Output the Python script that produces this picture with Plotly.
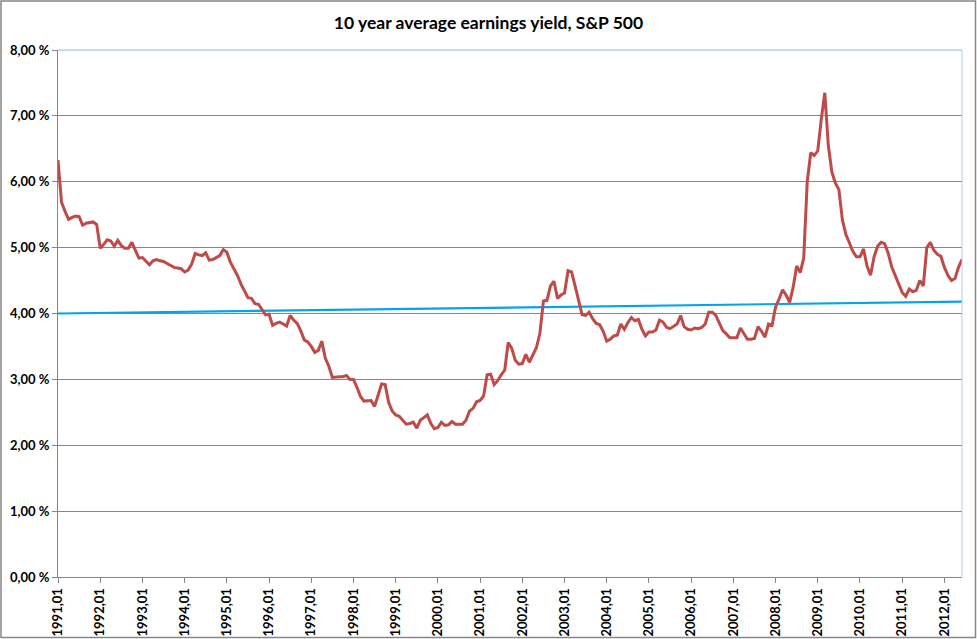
import plotly.graph_objects as go

# ---- data ----
title_text = "10 year average earnings yield, S&P 500"
years_labels = [f"{y},01" for y in range(1991, 2013)]

earnings_yield = [
    # 1991
    6.33, 5.69, 5.55, 5.43, 5.46, 5.48, 5.47, 5.34, 5.37, 5.38, 5.39, 5.35,
    # 1992
    4.99, 5.05, 5.12, 5.10, 5.02, 5.11, 5.03, 4.99, 4.99, 5.08, 4.95, 4.84,
    # 1993
    4.85, 4.80, 4.74, 4.80, 4.82, 4.80, 4.79, 4.76, 4.73, 4.70, 4.69, 4.68,
    # 1994
    4.63, 4.66, 4.75, 4.91, 4.89, 4.88, 4.92, 4.81, 4.82, 4.85, 4.88, 4.97,
    # 1995
    4.93, 4.78, 4.69, 4.58, 4.45, 4.35, 4.24, 4.23, 4.15, 4.14, 4.06, 3.98,
    # 1996
    3.99, 3.82, 3.85, 3.87, 3.84, 3.81, 3.97, 3.90, 3.85, 3.74, 3.60, 3.57,
    # 1997
    3.50, 3.41, 3.44, 3.58, 3.32, 3.20, 3.03, 3.04, 3.04, 3.04, 3.06, 3.00,
    # 1998
    3.00, 2.88, 2.74, 2.67, 2.68, 2.68, 2.59, 2.78, 2.93, 2.92, 2.65, 2.52,
    # 1999
    2.46, 2.44, 2.38, 2.32, 2.33, 2.35, 2.26, 2.38, 2.42, 2.46, 2.33, 2.25,
    # 2000
    2.27, 2.35, 2.30, 2.31, 2.36, 2.32, 2.32, 2.32, 2.38, 2.52, 2.56, 2.66,
    # 2001
    2.68, 2.75, 3.07, 3.08, 2.92, 2.98, 3.07, 3.14, 3.56, 3.47, 3.29, 3.23,
    # 2002
    3.24, 3.38, 3.26, 3.37, 3.48, 3.70, 4.19, 4.20, 4.42, 4.49, 4.23, 4.28,
    # 2003
    4.31, 4.65, 4.63, 4.42, 4.22, 3.98, 3.97, 4.02, 3.92, 3.85, 3.83, 3.73,
    # 2004
    3.58, 3.61, 3.66, 3.67, 3.84, 3.76, 3.86, 3.94, 3.89, 3.91, 3.76, 3.66,
    # 2005
    3.72, 3.72, 3.75, 3.90, 3.87, 3.79, 3.77, 3.80, 3.84, 3.97, 3.80, 3.76,
    # 2006
    3.75, 3.78, 3.77, 3.79, 3.84, 4.02, 4.02, 3.97, 3.84, 3.74, 3.69, 3.63,
    # 2007
    3.63, 3.63, 3.78, 3.69, 3.61, 3.61, 3.62, 3.80, 3.73, 3.64, 3.84, 3.82,
    # 2008
    4.10, 4.22, 4.36, 4.28, 4.17, 4.40, 4.72, 4.62, 4.84, 6.00, 6.44, 6.40,
    # 2009
    6.47, 6.95, 7.35, 6.55, 6.15, 5.98, 5.88, 5.42, 5.20, 5.07, 4.94, 4.86,
    # 2010
    4.86, 4.98, 4.72, 4.58, 4.86, 5.02, 5.08, 5.06, 4.92, 4.71, 4.58, 4.44,
    # 2011
    4.32, 4.26, 4.37, 4.33, 4.35, 4.50, 4.42, 5.00, 5.08, 4.96, 4.90, 4.87,
    # 2012
    4.70, 4.58, 4.50, 4.53, 4.70, 4.82,
]

trend_values = [4.00, 4.18]  # linear trend: first and last month

y_tick_values = [0, 1, 2, 3, 4, 5, 6, 7, 8]
y_tick_labels = ["0,00 %", "1,00 %", "2,00 %", "3,00 %", "4,00 %",
                 "5,00 %", "6,00 %", "7,00 %", "8,00 %"]

# ---- figure ----
n = len(earnings_yield)
x_idx = list(range(n))
x_tick_vals = list(range(0, n, 12))

W, H = 977, 639
ml, mr, mt, mb = 58, 15, 50, 62

fig = go.Figure()
fig.add_trace(go.Scatter(
    x=[0, n - 1], y=trend_values, mode="lines",
    line=dict(color="#00A6E6", width=2.2), hoverinfo="skip", showlegend=False,
))
fig.add_trace(go.Scatter(
    x=x_idx, y=earnings_yield, mode="lines",
    line=dict(color="#BE4B48", width=3), showlegend=False,
))

font_family = "Lato, 'Open Sans', sans-serif"

fig.update_layout(
    width=W, height=H, autosize=False,
    margin=dict(l=ml, r=mr, t=mt, b=mb, autoexpand=False),
    paper_bgcolor="white", plot_bgcolor="white",
    title=dict(text=f"<b>{title_text}</b>", x=0.5, xanchor="center",
               y=1 - 23 / H, yanchor="middle",
               font=dict(family=font_family, size=17.5, color="black")),
    font=dict(family=font_family, color="black"),
)

fig.update_xaxes(
    range=[0, n - 1], automargin=False,
    tickmode="array", tickvals=x_tick_vals,
    ticktext=[f"<b>{t}</b>" for t in years_labels[:len(x_tick_vals)]],
    tickangle=-90, ticks="outside", ticklen=5, tickcolor="#868686",
    tickfont=dict(family=font_family, size=13, color="black"),
    showgrid=False, zeroline=False,
    showline=True, linecolor="#868686", linewidth=1,
)
fig.update_yaxes(
    range=[0, 8], automargin=False,
    tickmode="array", tickvals=y_tick_values,
    ticktext=[f"<b>{t}</b>" for t in y_tick_labels],
    ticks="outside", ticklen=5, tickcolor="#868686",
    tickfont=dict(family=font_family, size=13, color="black"),
    showgrid=True, gridcolor="#868686", gridwidth=1,
    zeroline=False,
    showline=True, linecolor="#868686", linewidth=1,
)

# plot-area border (top & right, light blue)
fig.add_shape(type="line", xref="paper", yref="paper", x0=0, x1=1, y0=1, y1=1,
              line=dict(color="#8EB4E3", width=1), layer="above")
fig.add_shape(type="line", xref="paper", yref="paper", x0=1, x1=1, y0=0, y1=1,
              line=dict(color="#B9CDE5", width=1), layer="above")

# outer chart border
pw, ph = W - ml - mr, H - mt - mb
fig.add_shape(type="rect", xref="paper", yref="paper",
              x0=-(ml - 1) / pw, x1=1 + (mr - 1.5) / pw,
              y0=-(mb - 1.5) / ph, y1=1 + (mt - 1) / ph,
              line=dict(color="#868686", width=1.5), layer="below")

fig.write_html(
    "out.html",
    config={"displayModeBar": False},
    post_script="document.body.style.margin='0';",
)
